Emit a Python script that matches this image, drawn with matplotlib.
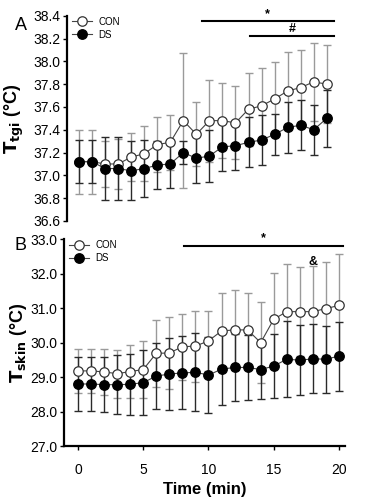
import numpy as np
import matplotlib.pyplot as plt

plt.rcParams['font.family'] = ['Liberation Sans', 'DejaVu Sans']

# panel A: gastrointestinal temperature, minutes 0-19
time_a = list(range(20))
con_tgi = [37.12, 37.12, 37.10, 37.10, 37.16, 37.19, 37.27, 37.29, 37.48, 37.36,
           37.48, 37.48, 37.46, 37.58, 37.61, 37.67, 37.74, 37.77, 37.82, 37.80]
con_tgi_sd = [0.28, 0.28, 0.20, 0.22, 0.21, 0.24, 0.24, 0.24, 0.59, 0.28,
              0.36, 0.33, 0.32, 0.32, 0.33, 0.32, 0.34, 0.33, 0.34, 0.34]
ds_tgi = [37.12, 37.12, 37.06, 37.06, 37.04, 37.06, 37.09, 37.10, 37.20, 37.15,
          37.17, 37.25, 37.26, 37.29, 37.31, 37.36, 37.42, 37.44, 37.40, 37.50]
ds_tgi_sd = [0.19, 0.19, 0.28, 0.28, 0.26, 0.25, 0.21, 0.21, 0.10, 0.22,
             0.23, 0.21, 0.21, 0.22, 0.22, 0.18, 0.22, 0.22, 0.22, 0.25]

# panel B: skin temperature, minutes 0-20
time_b = list(range(21))
con_skin = [29.18, 29.18, 29.15, 29.10, 29.16, 29.22, 29.69, 29.70, 29.88, 29.90, 30.05,
            30.34, 30.37, 30.37, 30.00, 30.68, 30.90, 30.90, 30.90, 30.99, 31.08]
con_skin_sd = [0.63, 0.63, 0.68, 0.70, 0.77, 0.84, 0.97, 1.05, 0.96, 1.03, 0.88,
               1.11, 1.16, 1.06, 1.17, 1.33, 1.38, 1.30, 1.32, 1.36, 1.49]
ds_skin = [28.80, 28.80, 28.78, 28.78, 28.79, 28.84, 29.03, 29.09, 29.12, 29.14, 29.06,
           29.23, 29.28, 29.28, 29.22, 29.32, 29.52, 29.49, 29.53, 29.52, 29.61]
ds_skin_sd = [0.79, 0.79, 0.80, 0.85, 0.89, 0.95, 0.97, 1.05, 1.06, 1.13, 1.09,
              1.04, 0.97, 0.95, 0.86, 0.92, 1.10, 1.01, 1.00, 0.97, 1.00]

# significance bars: (x start, x end, y, symbol)
sig_a = [(9.4, 19.55, 38.35, '*'), (13.1, 19.55, 38.22, '#')]
sig_b = [(8.1, 20.3, 32.81, '*')]

fig = plt.figure(figsize=(3.68, 5.01), dpi=100)
ax_a = fig.add_axes([67 / 368, 1 - 221 / 501, (345 - 67) / 368, (221 - 15.7) / 501])
ax_b = fig.add_axes([64 / 368, 1 - 446 / 501, (345 - 64) / 368, (446 - 239.3) / 501])


def draw_series(ax, x, con, con_sd, ds, ds_sd):
    ax.errorbar(x, con, yerr=con_sd, fmt='none', ecolor='#9a9a9a', elinewidth=1.0,
                capsize=3, capthick=1.0, zorder=1)
    ax.errorbar(x, ds, yerr=ds_sd, fmt='none', ecolor='#2a2a2a', elinewidth=1.0,
                capsize=3, capthick=1.0, zorder=1)
    ax.plot(x, con, '-o', color='#444444', lw=0.8, mfc='white', mec='#333333',
            mew=0.9, ms=6.8, label='CON', zorder=3)
    ax.plot(x, ds, '-o', color='#444444', lw=0.8, mfc='black', mec='black',
            ms=6.8, label='DS', zorder=4)


draw_series(ax_a, time_a, con_tgi, con_tgi_sd, ds_tgi, ds_tgi_sd)
draw_series(ax_b, time_b, con_skin, con_skin_sd, ds_skin, ds_skin_sd)

for x0, x1, y, sym in sig_a:
    ax_a.plot([x0, x1], [y, y], color='black', lw=1.5, clip_on=False)
    ax_a.text((x0 + x1) / 2, y + 0.012, sym, ha='center', va='bottom', fontsize=9,
              fontweight='bold')
for x0, x1, y, sym in sig_b:
    ax_b.plot([x0, x1], [y, y], color='black', lw=1.5, clip_on=False)
    ax_b.text((x0 + x1) / 2, y + 0.04, sym, ha='center', va='bottom', fontsize=9,
              fontweight='bold')
ax_b.text(18.0, 32.35, '&', ha='center', va='center', fontsize=9, fontweight='bold')

# axes styling
ax_a.set_xlim(-0.92, 20.4)
ax_a.set_ylim(36.6, 38.4)
ax_a.set_yticks(np.arange(36.6, 38.41, 0.2))
ax_a.set_yticklabels([f'{v:.1f}' for v in np.arange(36.6, 38.41, 0.2)])
ax_a.spines[['top', 'right', 'bottom']].set_visible(False)
ax_a.set_xticks([])

ax_b.set_xlim(-1.07, 20.46)
ax_b.set_ylim(27.0, 33.0)
ax_b.set_yticks(np.arange(27, 33.1, 1.0))
ax_b.set_yticklabels([f'{v:.1f}' for v in np.arange(27, 33.1, 1.0)])
ax_b.set_xticks([0, 5, 10, 15, 20])
ax_b.spines[['top', 'right']].set_visible(False)

for ax in (ax_a, ax_b):
    for s in ('left', 'bottom'):
        ax.spines[s].set_linewidth(1.6)
    ax.tick_params(direction='out', length=3, width=1.0, labelsize=10, pad=2)
    ax.legend(loc='upper left', bbox_to_anchor=(0.015, 1.0), frameon=False, fontsize=7,
              handlelength=2.0, handletextpad=0.7, labelspacing=0.3, borderpad=0.1,
              borderaxespad=0.0)
ax_b.tick_params(axis='x', pad=9)

ax_a.set_ylabel(r'$\mathbf{T_{tgi}}$ (°C)', fontsize=13, fontweight='bold')
ax_b.set_ylabel(r'$\mathbf{T_{skin}}$ (°C)', fontsize=13, fontweight='bold')
ax_a.yaxis.set_label_coords(-0.148, 0.5)
ax_b.yaxis.set_label_coords(-0.124, 0.5)
ax_b.set_xlabel('Time (min)', fontsize=12, fontweight='bold', labelpad=4)

fig.text(21 / 368, 1 - 25 / 501, 'A', fontsize=13, ha='center', va='center')
fig.text(20 / 368, 1 - 245 / 501, 'B', fontsize=13, ha='center', va='center')

fig.savefig('out.png', dpi=100)
